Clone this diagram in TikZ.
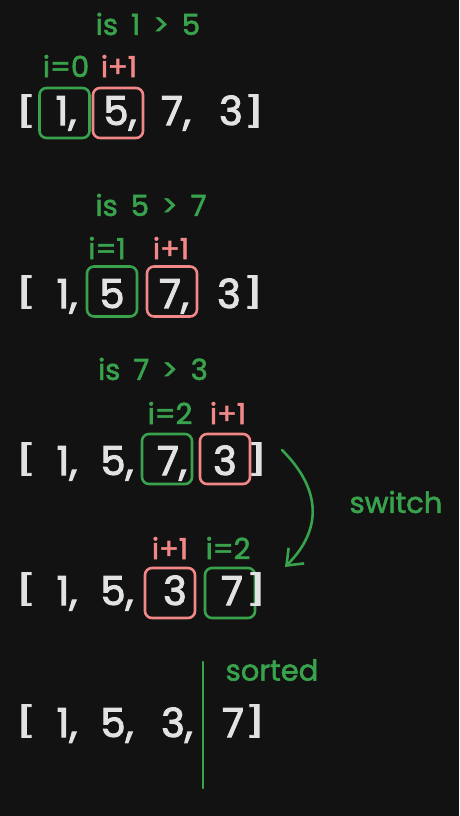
\documentclass[tikz,border=0pt]{standalone}
\usepackage{fontspec}
\setmainfont{Poppins}
\newfontface\tokfont{Poppins}[FakeBold=2.6]
\newfontface\lblfont{Poppins}[FakeBold=2]
\newcommand\lblsetup{\lblfont\fontsize{29}{32}\selectfont\spaceskip=13pt plus 2pt\relax}
\usetikzlibrary{arrows.meta}
\definecolor{bg}{HTML}{121212}
\definecolor{txt}{HTML}{E2E2E2}
\definecolor{grn}{HTML}{38A24C}
\definecolor{rd}{HTML}{F28787}
\tikzset{
  tok/.style={text=txt, font=\tokfont\fontsize{40}{44}\selectfont, inner sep=0pt, anchor=base},
  brk/.style={text=txt, font=\tokfont\fontsize{38}{42}\selectfont, inner sep=0pt, anchor=center, xscale=1.3, yscale=0.78, transform shape},
  lbl/.style={font=\lblsetup, inner sep=0pt},
  glbl/.style={lbl, text=grn},
  rlbl/.style={lbl, text=rd},
  boxbase/.style={draw, line width=2.6pt, rounded corners=7pt, minimum width=50pt, minimum height=50pt, inner sep=0pt},
  gbox/.style={boxbase, draw=grn},
  rbox/.style={boxbase, draw=rd},
}
\begin{document}
\begin{tikzpicture}[x=1pt,y=-1pt]
\fill[bg] (0,0) rectangle (459,816);
\useasboundingbox (0,0) rectangle (459,816);

% ---------- row 1 ----------
\node[glbl] (q1) at (148,24) {is 1 > 5};
\node[glbl] (i1a) at (66,66) {i=0};
\node[rlbl] (i1b) at (119,66) {i+1};
\node[gbox] (b1g) at (64.5,113) {};
\node[rbox] (b1r) at (118,113) {};
\node[brk] (r1a) at (26,111) {[};
\node[tok] (r1b) at (66,125) {1,};
\node[tok] (r1c) at (120,125) {5,};
\node[tok] (r1d) at (176,125) {7,};
\node[tok] (r1e) at (231,125) {3};
\node[brk] (r1f) at (254,111) {]};

% ---------- row 2 ----------
\node[glbl] (q2) at (151,205) {is 5 > 7};
\node[glbl] (i2a) at (107,248) {i=1};
\node[rlbl] (i2b) at (171,248) {i+1};
\node[gbox] (b2g) at (112,291.5) {};
\node[rbox] (b2r) at (172,291.5) {};
\node[brk] (r2a) at (26,292) {[};
\node[tok] (r2b) at (67,308) {1,};
\node[tok] (r2c) at (112,308) {5};
\node[tok] (r2d) at (174,308) {7,};
\node[tok] (r2e) at (229,308) {3};
\node[brk] (r2f) at (253,292) {]};

% ---------- row 3 ----------
\node[glbl] (q3) at (153,369) {is 7 > 3};
\node[glbl] (i3a) at (170,413) {i=2};
\node[rlbl] (i3b) at (228,413) {i+1};
\node[gbox] (b3g) at (167,459) {};
\node[rbox] (b3r) at (225,459) {};
\node[brk] (r3a) at (26,459) {[};
\node[tok] (r3b) at (67,475) {1,};
\node[tok] (r3c) at (117,475) {5,};
\node[tok] (r3d) at (172,475) {7,};
\node[tok] (r3e) at (225,475) {3};
\node[brk] (r3f) at (257,459) {]};

% ---------- switch arrow ----------
\coordinate (swA) at (282,450);
\coordinate (swB) at (285,567);
\draw[grn, line width=2.6pt, line cap=round, -{Straight Barb[length=14pt,width=22pt,line width=2.6pt]}]
  (swA) .. controls (322,490) and (322,530) .. (swB);
\node[glbl] (sw) at (396,502) {switch};

% ---------- row 4 ----------
\node[rlbl] (i4b) at (170,548) {i+1};
\node[glbl] (i4a) at (228,548) {i=2};
\node[rbox] (b4r) at (170,593) {};
\node[gbox] (b4g) at (230,593) {};
\node[brk] (r4a) at (26,589) {[};
\node[tok] (r4b) at (67,605) {1,};
\node[tok] (r4c) at (117,605) {5,};
\node[tok] (r4d) at (175,605) {3};
\node[tok] (r4e) at (232,605) {7};
\node[brk] (r4f) at (256,589) {]};

% ---------- row 5 ----------
\coordinate (sepT) at (203,662);
\coordinate (sepB) at (203,788);
\draw[grn, line width=2.8pt, line cap=round] (sepT) -- (sepB);
\node[glbl] (so) at (272,670) {sorted};
\node[brk] (r5a) at (26,721) {[};
\node[tok] (r5b) at (67,737) {1,};
\node[tok] (r5c) at (117,737) {5,};
\node[tok] (r5d) at (177,737) {3,};
\node[tok] (r5e) at (233,737) {7};
\node[brk] (r5f) at (255,721) {]};
\end{tikzpicture}
\end{document}
